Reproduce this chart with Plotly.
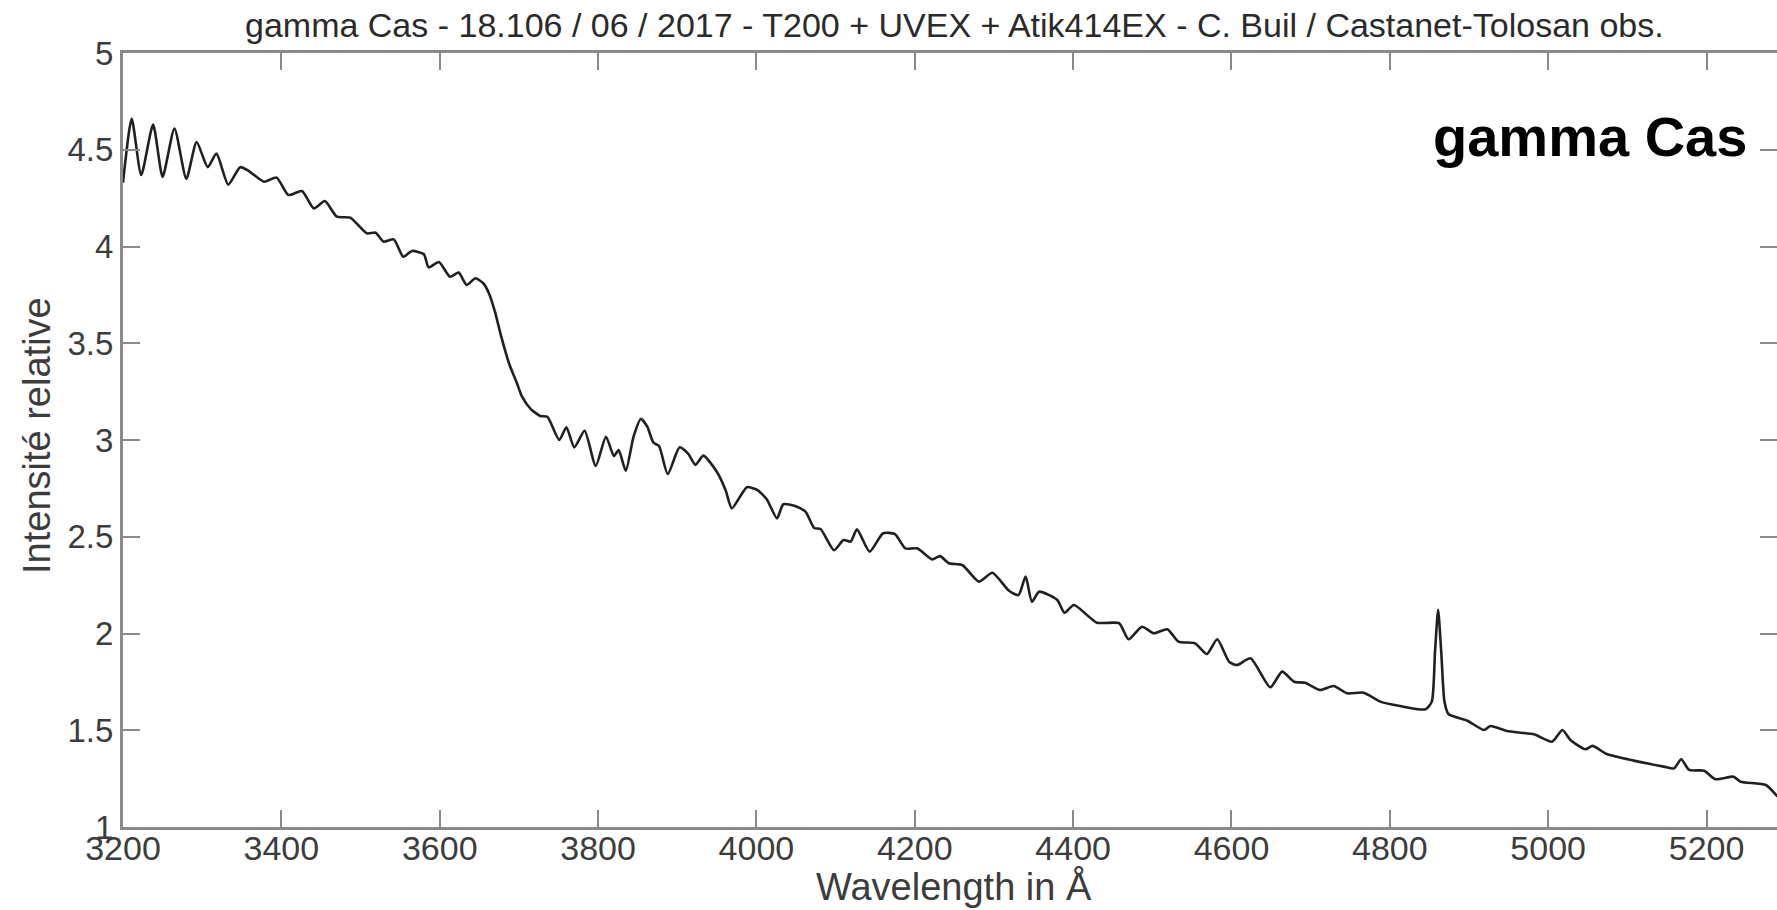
import plotly.graph_objects as go

# Spectrum of gamma Cas: wavelength (Angstrom) and relative intensity
wavelength = [
    3200, 3211, 3223, 3238, 3250, 3265, 3280, 3293, 3307, 3318,
    3333, 3348, 3359, 3378, 3394, 3409, 3426, 3441, 3455, 3470,
    3487, 3508, 3519, 3529, 3542, 3554, 3565, 3580, 3586, 3599,
    3613, 3624, 3634, 3645, 3655, 3662, 3670, 3678, 3688, 3697,
    3704, 3715, 3727, 3736, 3751, 3760, 3770, 3783, 3797, 3810,
    3820, 3826, 3835, 3845, 3854, 3862, 3870, 3877, 3888, 3903,
    3914, 3923, 3933, 3950, 3961, 3969, 3988, 4001, 4013, 4026,
    4034, 4049, 4062, 4073, 4081, 4098, 4110, 4119, 4127, 4143,
    4160, 4175, 4188, 4203, 4222, 4232, 4243, 4260, 4281, 4298,
    4319, 4331, 4340, 4348, 4357, 4380, 4389, 4401, 4430, 4458,
    4470, 4487, 4502, 4519, 4533, 4554, 4569, 4582, 4597, 4607,
    4624, 4649, 4664, 4679, 4693, 4712, 4729, 4746, 4767, 4788,
    4813, 4845, 4853, 4857, 4861, 4865, 4869, 4874, 4898, 4919,
    4927, 4948, 4982, 5005, 5018, 5028, 5047, 5056, 5074, 5108,
    5146, 5159, 5168, 5178, 5197, 5211, 5234, 5243, 5275, 5290,
    5300,
]
intensity = [
    4.33, 4.66, 4.37, 4.63, 4.36, 4.61, 4.35, 4.54, 4.41, 4.48,
    4.32, 4.41, 4.39, 4.335, 4.356, 4.266, 4.287, 4.197, 4.235, 4.154,
    4.149, 4.068, 4.071, 4.025, 4.037, 3.947, 3.977, 3.96, 3.892, 3.92,
    3.844, 3.865, 3.801, 3.836, 3.81, 3.76, 3.66, 3.53, 3.39, 3.30,
    3.224, 3.16, 3.124, 3.12, 3.00, 3.066, 2.962, 3.048, 2.866, 3.017,
    2.917, 2.948, 2.841, 3.02, 3.109, 3.07, 2.986, 2.969, 2.824, 2.962,
    2.928, 2.871, 2.919, 2.836, 2.742, 2.647, 2.756, 2.742, 2.694, 2.595,
    2.668, 2.659, 2.63, 2.545, 2.54, 2.43, 2.483, 2.475, 2.538, 2.423,
    2.518, 2.514, 2.44, 2.44, 2.383, 2.40, 2.363, 2.354, 2.268, 2.314,
    2.221, 2.199, 2.294, 2.164, 2.216, 2.173, 2.107, 2.147, 2.056, 2.053,
    1.97, 2.035, 2.001, 2.022, 1.958, 1.949, 1.894, 1.97, 1.854, 1.837,
    1.872, 1.722, 1.803, 1.751, 1.745, 1.708, 1.729, 1.691, 1.694, 1.648,
    1.625, 1.608, 1.648, 1.90, 2.122, 1.90, 1.648, 1.584, 1.549, 1.501,
    1.522, 1.496, 1.479, 1.441, 1.501, 1.45, 1.402, 1.419, 1.377, 1.343,
    1.312, 1.303, 1.35, 1.295, 1.291, 1.247, 1.26, 1.234, 1.217, 1.157,
    1.12,
]

x_ticks = [3200, 3400, 3600, 3800, 4000, 4200, 4400, 4600, 4800, 5000, 5200]
y_ticks = [1, 1.5, 2, 2.5, 3, 3.5, 4, 4.5, 5]
y_ticktext = ["1", "1.5", "2", "2.5", "3", "3.5", "4", "4.5", "5"]

title_text = ("gamma Cas - 18.106 / 06 / 2017 - T200 + UVEX + Atik414EX"
              " - C. Buil / Castanet-Tolosan obs.")
star_label = "gamma Cas"

FONT = "Liberation Sans, Arial, Helvetica, sans-serif"
AXIS_GREY = "#8a8a8a"
TEXT_GREY = "#3c3c3c"

W, H = 1777, 910
M_L, M_R, M_T, M_B = 123, 0, 53, 83

fig = go.Figure()
fig.add_trace(go.Scatter(
    x=wavelength, y=intensity, mode="lines",
    line=dict(color="#202020", width=2.6, shape="spline", smoothing=0.6),
    showlegend=False, hoverinfo="x+y",
))
# helper trace so the right-hand tick axis is drawn
fig.add_trace(go.Scatter(
    x=[wavelength[0]], y=[intensity[0]], yaxis="y2", mode="lines",
    line=dict(width=0), showlegend=False, hoverinfo="skip",
))

fig.update_layout(
    width=W, height=H,
    margin=dict(l=M_L, r=M_R, t=M_T, b=M_B, pad=0),
    paper_bgcolor="white", plot_bgcolor="white",
    font=dict(family=FONT, color=TEXT_GREY),
    xaxis=dict(
        range=[3200, 5289], tickvals=x_ticks,
        ticks="inside", ticklen=17, tickwidth=2, tickcolor=AXIS_GREY,
        showline=True, linecolor=AXIS_GREY, linewidth=3, mirror="ticks",
        showgrid=False, zeroline=False,
        tickfont=dict(size=34, color=TEXT_GREY), ticklabelstandoff=-11,
    ),
    yaxis=dict(
        range=[1, 5], tickvals=y_ticks, ticktext=y_ticktext,
        ticks="inside", ticklen=17, tickwidth=2, tickcolor=AXIS_GREY,
        showline=True, linecolor=AXIS_GREY, linewidth=3,
        showgrid=False, zeroline=False,
        tickfont=dict(size=33, color=TEXT_GREY),
    ),
    yaxis2=dict(
        range=[1, 5], tickvals=y_ticks, overlaying="y", side="right",
        ticks="inside", ticklen=17, tickwidth=2, tickcolor=AXIS_GREY,
        showline=False, showticklabels=False, showgrid=False, zeroline=False,
    ),
)

plot_w = W - M_L - M_R
plot_h = H - M_T - M_B


def px_to_paper(px, py):
    return (px - M_L) / plot_w, (H - M_B - py) / plot_h


tx, ty = px_to_paper(954, 25)
fig.add_annotation(text=title_text, x=tx, y=ty, xref="paper", yref="paper",
                   showarrow=False, xanchor="center", yanchor="middle",
                   font=dict(size=34, color="#2a2a2a", family=FONT))

ax, ay = px_to_paper(954, 887)
fig.add_annotation(text="Wavelength in Å", x=ax, y=ay, xref="paper", yref="paper",
                   showarrow=False, xanchor="center", yanchor="middle",
                   font=dict(size=38, color=TEXT_GREY, family=FONT))

bx, by = px_to_paper(37, 436)
fig.add_annotation(text="Intensité relative", x=bx, y=by, xref="paper", yref="paper",
                   showarrow=False, xanchor="center", yanchor="middle", textangle=-90,
                   font=dict(size=38, color=TEXT_GREY, family=FONT))

sx, sy = px_to_paper(1590, 136)
fig.add_annotation(text="<b>" + star_label + "</b>", x=sx, y=sy, xref="paper", yref="paper",
                   showarrow=False, xanchor="center", yanchor="middle",
                   font=dict(size=56, color="black", family=FONT))

fig.write_html("out.html")
